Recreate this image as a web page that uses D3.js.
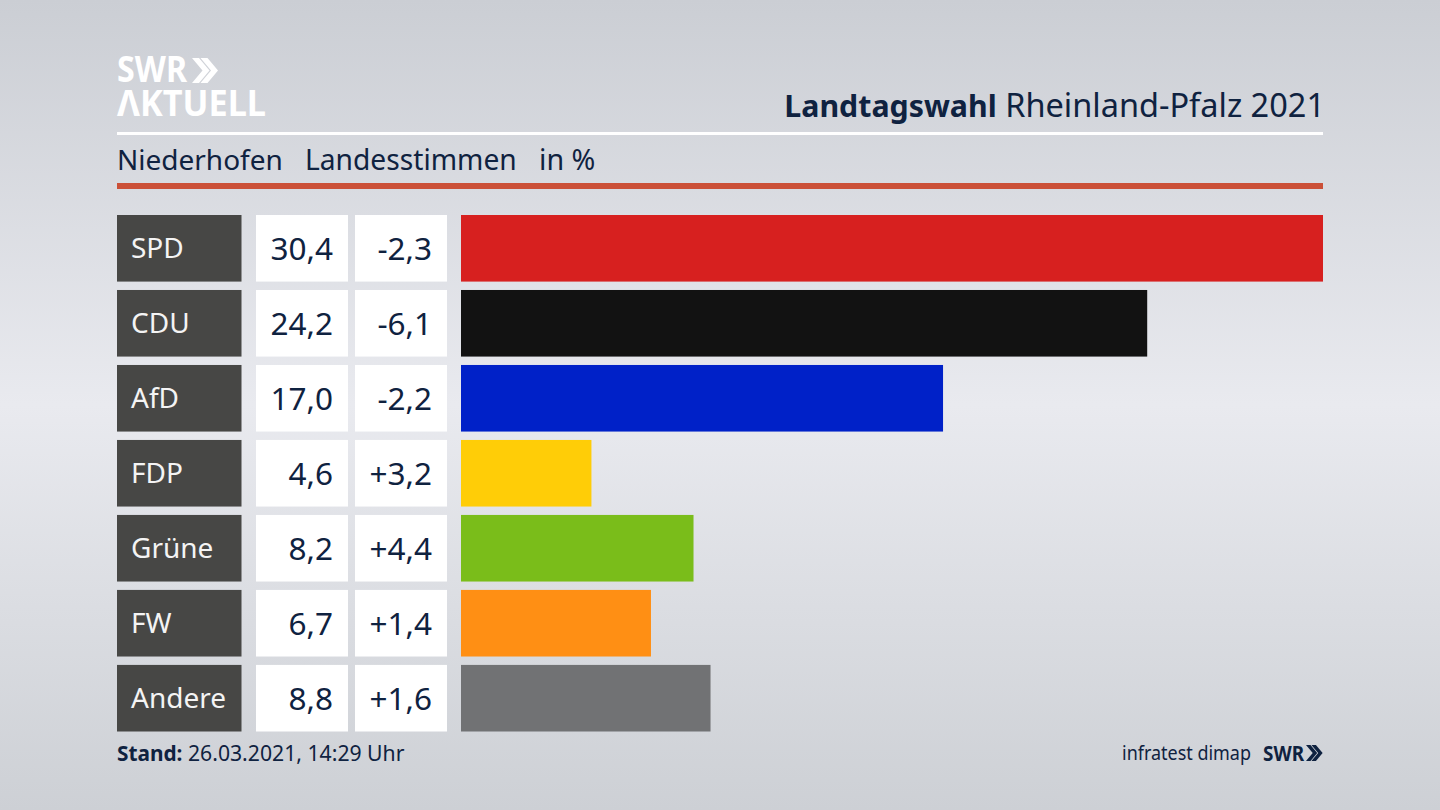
<!DOCTYPE html>
<html>
<head>
<meta charset="utf-8">
<style>
html, body { margin: 0; padding: 0; }
body { width: 1440px; height: 810px; overflow: hidden; }
svg { display: block; }
text { font-family: "Noto Sans", sans-serif; fill: #0f2240; }
</style>
<script src="https://cdn.jsdelivr.net/npm/d3@7/dist/d3.min.js"></script>
</head>
<body>
<svg id="chart" width="1440" height="810"></svg>
<script>
var parties = ["SPD", "CDU", "AfD", "FDP", "Grüne", "FW", "Andere"];
var shares = [30.4, 24.2, 17.0, 4.6, 8.2, 6.7, 8.8];
var changes = [-2.3, -6.1, -2.2, 3.2, 4.4, 1.4, 1.6];
var colors = ["#d7201f", "#121212", "#0021c8", "#ffcd07", "#7abd1a", "#ff8f14", "#717274"];

var svg = d3.select("#chart");

var defs = svg.append("defs");
var grad = defs.append("linearGradient").attr("id", "bg").attr("x1", 0).attr("y1", 0).attr("x2", 0).attr("y2", 1);
grad.append("stop").attr("offset", "0%").attr("stop-color", "#cbced4");
grad.append("stop").attr("offset", "50%").attr("stop-color", "#e9eaef");
grad.append("stop").attr("offset", "100%").attr("stop-color", "#cdd0d5");
svg.append("rect").attr("width", 1440).attr("height", 810).attr("fill", "url(#bg)");

// rows
var y = d3.scaleBand().domain(parties).range([215, 731.5]).paddingInner(0.112).paddingOuter(0);
var x = d3.scaleLinear().domain([0, 30.4]).range([461, 1323]);

function fmt(v) { return v.toFixed(1).replace(".", ","); }
function fmtDiff(v) { return (v > 0 ? "+" : "-") + fmt(Math.abs(v)); }

var rows = svg.selectAll("g.row").data(parties).enter().append("g").attr("class", "row")
	.attr("transform", function(d) { return "translate(0," + y(d) + ")"; });

rows.append("rect").attr("x", 117).attr("width", 124.5).attr("height", y.bandwidth()).attr("fill", "#474745");
rows.append("rect").attr("x", 256).attr("width", 92).attr("height", y.bandwidth()).attr("fill", "#fff");
rows.append("rect").attr("x", 355).attr("width", 92).attr("height", y.bandwidth()).attr("fill", "#fff");
rows.append("rect").attr("x", x(0)).attr("height", y.bandwidth())
	.attr("width", function(d, i) { return x(shares[i]) - x(0); })
	.attr("fill", function(d, i) { return colors[i]; });

rows.append("text").attr("x", 131).attr("y", y.bandwidth() / 2 + 10).attr("font-size", 28)
	.style("fill", "#f4f4f4").text(function(d) { return d; });
rows.append("text").attr("x", 333).attr("y", y.bandwidth() / 2 + 12).attr("font-size", 31.5).attr("text-anchor", "end")
	.text(function(d, i) { return fmt(shares[i]); });
rows.append("text").attr("x", 432).attr("y", y.bandwidth() / 2 + 12).attr("font-size", 31.5).attr("text-anchor", "end")
	.text(function(d, i) { return fmtDiff(changes[i]); });

// header
svg.append("rect").attr("x", 117).attr("y", 132).attr("width", 1206).attr("height", 3).attr("fill", "#fff");
svg.append("rect").attr("x", 117).attr("y", 183).attr("width", 1206).attr("height", 6).attr("fill", "#cb5038");

var title = svg.append("text").attr("x", 1325).attr("y", 117).attr("font-size", 32.5).attr("text-anchor", "end");
title.append("tspan").attr("font-weight", 700).attr("font-size", 30.3).text("Landtagswahl");
title.append("tspan").text(" Rheinland-Pfalz 2021");

svg.append("text").attr("x", 117).attr("y", 170).attr("font-size", 28).text("Niederhofen");
svg.append("text").attr("x", 305).attr("y", 170).attr("font-size", 28.2).text("Landesstimmen");
svg.append("text").attr("x", 539).attr("y", 170).attr("font-size", 28.6).text("in %");

// logo
function chevrons(px, py, h, color) {
	var w = h * 0.42, t = h * 0.28;
	[0, h * 0.34].forEach(function(o) {
		var a = px + o;
		svg.append("path").attr("fill", color)
			.attr("d", "M" + a + "," + py + "h" + t + "l" + w + "," + (h / 2) + "l" + (-w) + "," + (h / 2) + "h" + (-t) + "l" + w + "," + (-h / 2) + "z");
	});
}
var logo = svg.append("text").attr("font-size", 36).attr("font-weight", 700).style("fill", "#fff");
logo.append("tspan").attr("x", 117).attr("y", 82)
	.attr("textLength", 70).attr("lengthAdjust", "spacingAndGlyphs").style("fill", "#fff").text("SWR");
logo.append("tspan").attr("x", 117).attr("y", 116)
	.attr("textLength", 149).attr("lengthAdjust", "spacingAndGlyphs").style("fill", "#fff").text("ΛKTUELL");
chevrons(192, 58, 25, "#fff");

// footer
var stand = svg.append("text").attr("x", 117).attr("y", 761).attr("font-size", 21.2);
stand.append("tspan").attr("font-weight", 700).attr("font-size", 20.8).text("Stand:");
stand.append("tspan").text(" 26.03.2021, 14:29 Uhr");

svg.append("text").attr("x", 1251).attr("y", 760).attr("font-size", 19.5).attr("text-anchor", "end")
	.attr("textLength", 129).attr("lengthAdjust", "spacingAndGlyphs").text("infratest dimap");
svg.append("text").attr("x", 1263).attr("y", 761).attr("font-size", 21).attr("font-weight", 700)
	.attr("textLength", 41).attr("lengthAdjust", "spacingAndGlyphs").text("SWR");
chevrons(1306, 745, 16, "#0f2240");
</script>
</body>
</html>
